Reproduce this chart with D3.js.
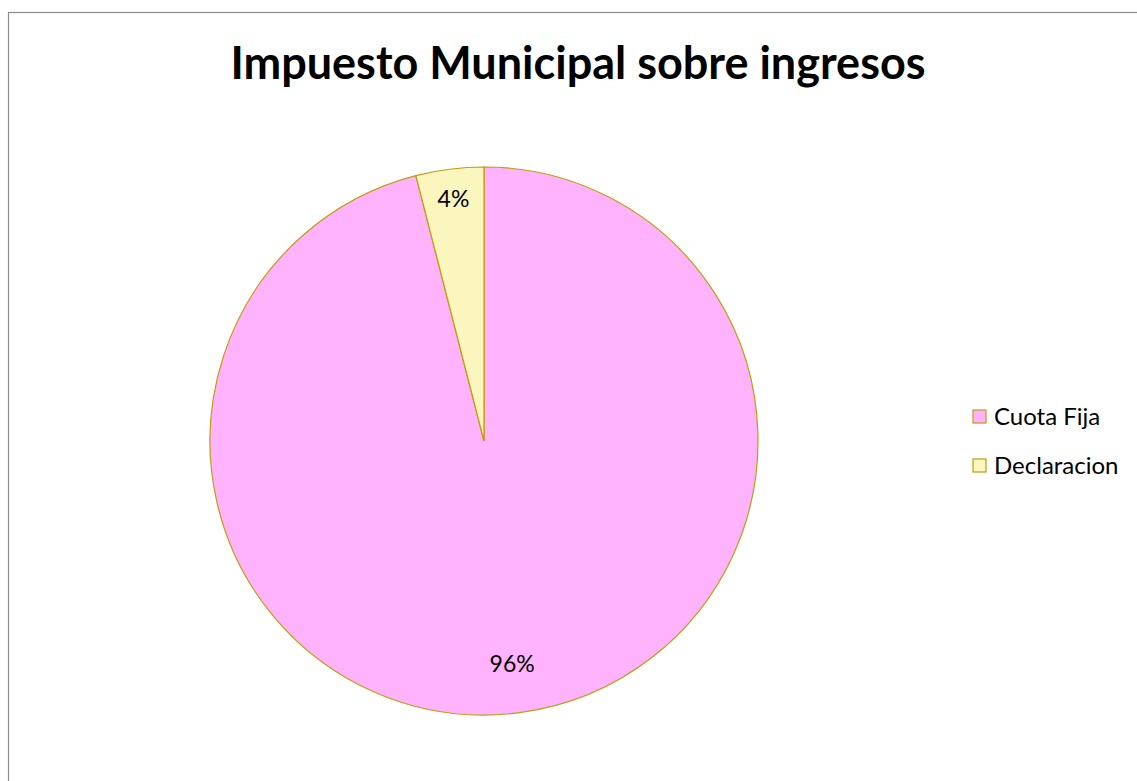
<!DOCTYPE html>
<html>
<head>
<meta charset="utf-8">
<script src="https://cdn.jsdelivr.net/npm/d3@7"></script>
<style>
  body { margin: 0; background: #fff; }
  text { font-family: Lato, 'Open Sans', sans-serif; }
</style>
</head>
<body>
<div id="chart"></div>
<script>
const categories = ['Cuota Fija', 'Declaracion']
const values = [96, 4]
const colors = ['#FFB3FC', '#FAF6BE']
const title = 'Impuesto Municipal sobre ingresos'

const width = 1137
const height = 781
const cx = 484
const cy = 441
const radius = 274

let svg = d3.select('#chart')
  .append('svg')
  .attr('width', width)
  .attr('height', height)

// outer frame
svg.append('rect')
  .attr('x', 8.5)
  .attr('y', 12.5)
  .attr('width', 1140)
  .attr('height', 800)
  .attr('fill', 'none')
  .attr('stroke', '#8c8c8c')
  .attr('stroke-width', 1.2)

svg.append('text')
  .attr('x', 578)
  .attr('y', 79)
  .attr('text-anchor', 'middle')
  .style('font-size', '45px')
  .style('font-weight', 'bold')
  .text(title)

let pie = d3.pie().sort(null).value((d) => d)
let arcs = pie(values)
let arc = d3.arc().innerRadius(0).outerRadius(radius)

let g = svg.append('g')
  .attr('transform', `translate(${cx},${cy})`)

g.selectAll('path')
  .data(arcs)
  .enter()
  .append('path')
  .attr('d', arc)
  .attr('fill', (d, i) => colors[i])
  .attr('stroke', '#C49A10')
  .attr('stroke-width', 1.2)

// big slices get their label a bit further in
let labelPos = (d) => {
  let r = (d.endAngle - d.startAngle > Math.PI ? 0.82 : 0.89) * radius
  return d3.arc().innerRadius(r).outerRadius(r).centroid(d)
}

let total = d3.sum(values)
g.selectAll('.lbl')
  .data(arcs)
  .enter()
  .append('text')
  .classed('lbl', true)
  .attr('transform', (d) => `translate(${labelPos(d)})`)
  .attr('text-anchor', 'middle')
  .attr('dy', '0.35em')
  .style('font-size', '23px')
  .text((d) => Math.round(d.data / total * 100) + '%')

// legend
let legend = svg.append('g')
  .attr('transform', 'translate(973,410)')
let item = legend.selectAll('g')
  .data(categories)
  .enter()
  .append('g')
  .attr('transform', (d, i) => `translate(0,${i * 49})`)
item.append('rect')
  .attr('width', 13)
  .attr('height', 13)
  .attr('fill', (d, i) => colors[i])
  .attr('stroke', '#C49A10')
  .attr('stroke-width', 1.2)
item.append('text')
  .attr('x', 21)
  .attr('y', 15)
  .style('font-size', '24px')
  .text((d) => d)
</script>
</body>
</html>
